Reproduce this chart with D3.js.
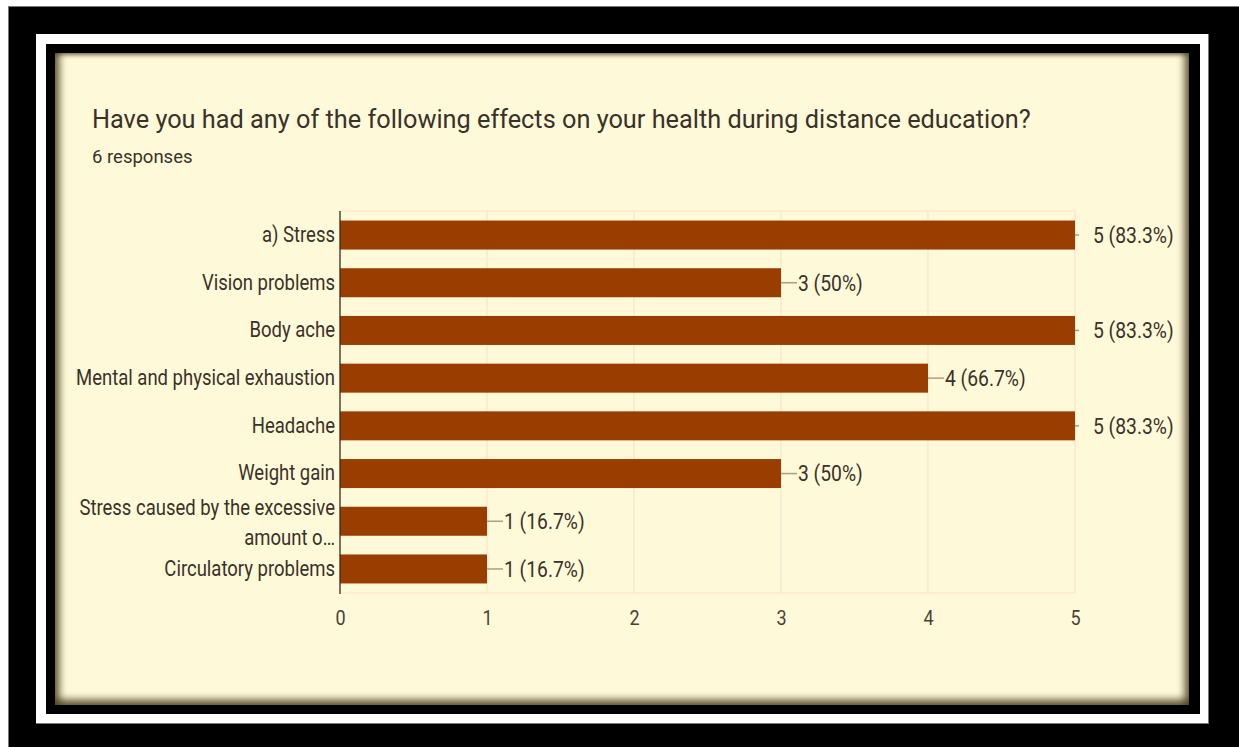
<!DOCTYPE html>
<html>
<head>
<meta charset="utf-8">
<script src="https://cdn.jsdelivr.net/npm/d3@7"></script>
<style>
  html, body { margin: 0; padding: 0; background: #ffffff; width: 1239px; height: 747px; overflow: hidden; }
  .frame { position: absolute; box-sizing: border-box; }
  #outer { left: 8px; top: 6px; width: 1231px; height: 741px; background: #000; border-left: 1px solid #777; border-top: 1px solid #777; }
  #mat { left: 36px; top: 34px; width: 1173px; height: 690px; background: #fff; border-right: 1px solid #777; border-bottom: 1px solid #777; }
  #inner { left: 46px; top: 44px; width: 1154px; height: 670px; background: #000; }
  #card { left: 55px; top: 53px; width: 1134px; height: 652px; background: #fefad9;
    box-shadow: inset 8px 0 7px -3px rgba(70,60,30,0.75), inset -8px 0 7px -3px rgba(70,60,30,0.75),
                inset 0 -9px 7px -3px rgba(70,60,30,0.75), inset 0 4px 4px -2px rgba(70,60,30,0.6); }
  svg { position: absolute; left: 0; top: 0; }
  text { font-family: Roboto, "Liberation Sans", Arial, sans-serif; }
</style>
</head>
<body>
<div class="frame" id="outer"></div>
<div class="frame" id="mat"></div>
<div class="frame" id="inner"></div>
<div class="frame" id="card"></div>
<svg id="chart" width="1239" height="747"></svg>
<script>
// Survey answers: number of respondents reporting each effect
const categories = [
  "a) Stress",
  "Vision problems",
  "Body ache",
  "Mental and physical exhaustion",
  "Headache",
  "Weight gain",
  "Stress caused by the excessive amount o…",
  "Circulatory problems"
];
const counts = [5, 3, 5, 4, 5, 3, 1, 1];
const percents = ["83.3%", "50%", "83.3%", "66.7%", "83.3%", "50%", "16.7%", "16.7%"];
const xTicks = [0, 1, 2, 3, 4, 5];
// Wrapped lines for the long category name
const wrappedLabels = { "Stress caused by the excessive amount o…": ["Stress caused by the excessive", "amount o…"] };

const titleText = "Have you had any of the following effects on your health during distance education?";
const subtitleText = "6 responses";

const svg = d3.select("#chart");
const textColor = "#3a3128";
const barColor = "#993d00";
const gridColor = "#fbe2c8";
const stretchY = 1.15;   // chart labels are drawn slightly tall
const fontStack = 'Roboto, "Liberation Sans", Arial, sans-serif';

const x = d3.scaleLinear().domain([0, 5]).range([340, 1075]);
const y = d3.scaleBand().domain(categories).range([211, 593]).paddingInner(0.392).paddingOuter(0.2);

svg.append("text").attr("x", 92).attr("y", 128)
  .attr("font-size", 25.3).attr("fill", textColor).text(titleText);
svg.append("text").attr("x", 92).attr("y", 163)
  .attr("font-size", 18.5).attr("fill", textColor).text(subtitleText);

// Grid
const grid = svg.append("g");
grid.selectAll("line.v").data(xTicks.slice(1)).join("line")
  .attr("x1", d => x(d)).attr("x2", d => x(d))
  .attr("y1", y.range()[0]).attr("y2", y.range()[1])
  .attr("stroke", gridColor).attr("stroke-width", 1.2);
grid.selectAll("line.h").data(y.range()).join("line")
  .attr("x1", x(0)).attr("x2", x(5))
  .attr("y1", d => d).attr("y2", d => d)
  .attr("stroke", gridColor).attr("stroke-width", 1.2);

// Bars
svg.append("g").selectAll("rect").data(categories).join("rect")
  .attr("x", x(0))
  .attr("y", d => y(d))
  .attr("width", (d, i) => x(counts[i]) - x(0))
  .attr("height", y.bandwidth())
  .attr("fill", barColor);

// Baseline axis
svg.append("line").attr("x1", x(0)).attr("x2", x(0))
  .attr("y1", y.range()[0]).attr("y2", y.range()[1] + 1)
  .attr("stroke", "#3a2a1a").attr("stroke-width", 1.3);

// X axis tick labels
const xAxis = d3.axisBottom(x).tickValues(xTicks).tickSize(0).tickPadding(0).tickFormat(d3.format("d"));
const xg = svg.append("g").attr("transform", `translate(0,${y.range()[1] + 17})`).call(xAxis);
xg.select(".domain").remove();
xg.selectAll("text").attr("font-size", 18).attr("fill", "#4a4036")
  .attr("font-family", fontStack)
  .attr("transform", `scale(1,${stretchY})`);

// Category labels
const yAxis = d3.axisLeft(y).tickSize(0).tickPadding(5);
const yg = svg.append("g").attr("transform", `translate(${x(0)},0)`).call(yAxis);
yg.select(".domain").remove();
yg.selectAll("text").attr("font-size", 18.5).attr("fill", textColor)
  .attr("font-family", fontStack)
  .attr("transform", `scale(1,${stretchY})`)
  .each(function (d) {
    const lines = wrappedLabels[d];
    if (!lines) return;
    const t = d3.select(this).text(null).attr("dy", null);
    lines.forEach((ln, k) => {
      t.append("tspan").attr("x", -5).attr("dy", k === 0 ? "-0.28em" : "1.4em").text(ln);
    });
  });

// Value annotations with stems
const maxVal = d3.max(counts);
const ann = svg.append("g");
categories.forEach((c, i) => {
  const xe = x(counts[i]);
  const cy = y(c) + y.bandwidth() / 2;
  const atMax = counts[i] === maxVal;
  const stemEnd = atMax ? xe + 4 : xe + 16;
  const textX = atMax ? xe + 18 : xe + 17;
  ann.append("line").attr("x1", xe).attr("x2", stemEnd).attr("y1", cy).attr("y2", cy)
    .attr("stroke", atMax ? "#9a9a9a" : "#b49a80").attr("stroke-width", 1.5);
  ann.append("text").attr("transform", `translate(${textX},${cy}) scale(1,${stretchY})`)
    .attr("dy", "0.35em")
    .attr("font-size", 19.3).attr("fill", textColor)
    .text(`${counts[i]} (${percents[i]})`);
});
</script>
</body>
</html>
